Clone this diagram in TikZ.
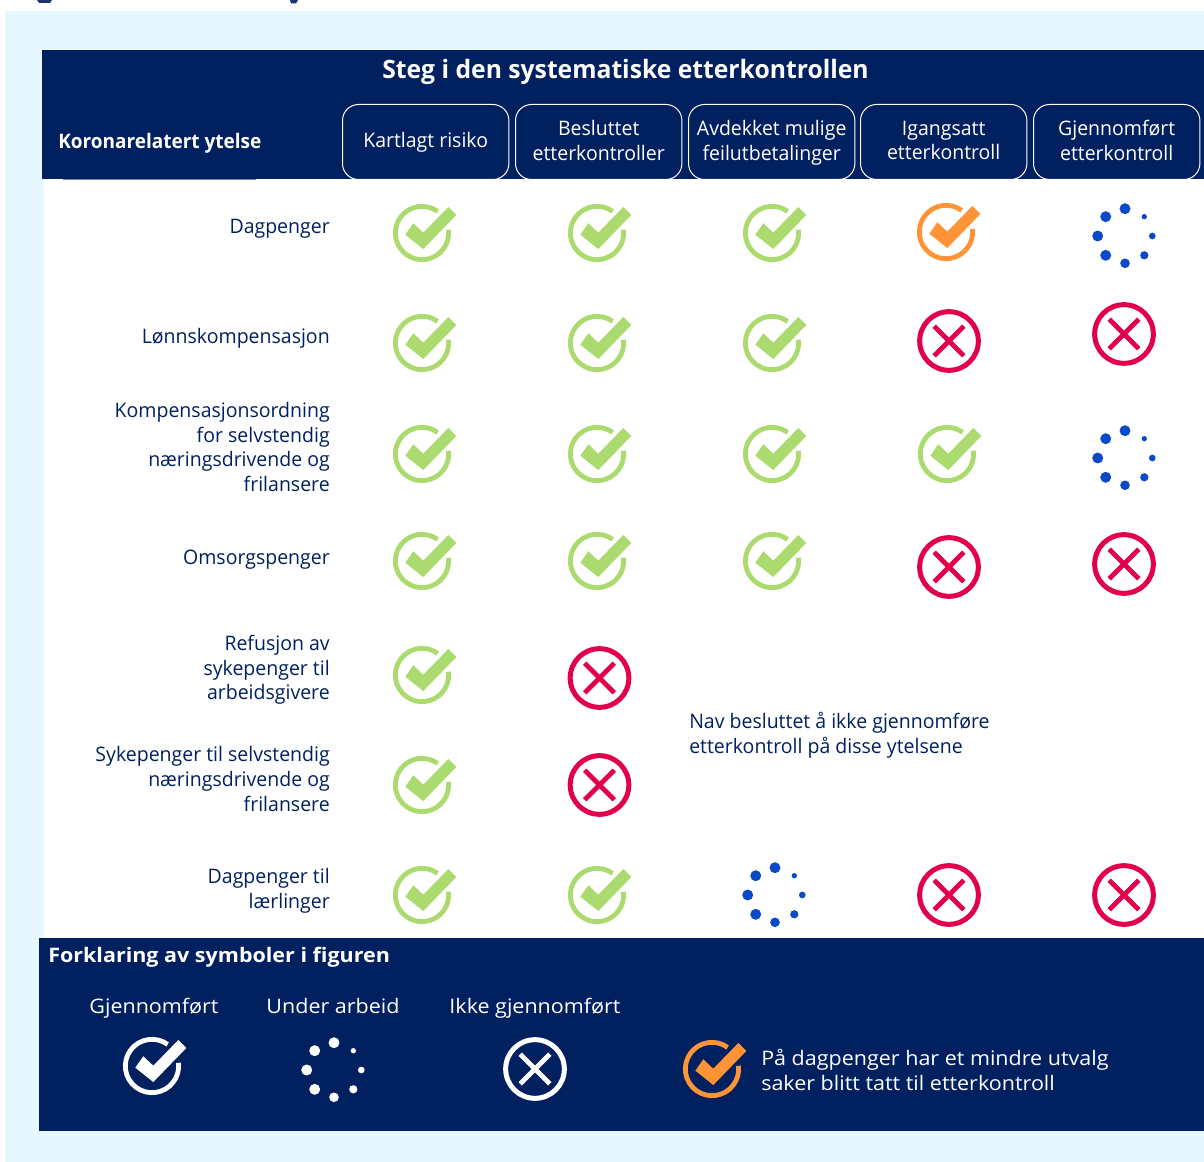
\documentclass[tikz,border=0pt]{standalone}
\usepackage{fontspec}
\setmainfont{Open Sans}
\newfontfamily\rowf[FakeStretch=0.975]{Open Sans}
\newfontfamily\headf[FakeStretch=0.95]{Open Sans}
\newfontfamily\titlef[FakeStretch=0.975]{Open Sans}
\newfontfamily\legf[FakeStretch=1.075]{Open Sans}
\newcommand{\lowedge}{\rule[-4pt]{0pt}{4pt}}
\definecolor{navy}{HTML}{002060}
\definecolor{pale}{HTML}{E7F7FF}
\definecolor{okgreen}{HTML}{ABDB6E}
\definecolor{okorange}{HTML}{FF9436}
\definecolor{nored}{HTML}{E2004A}
\definecolor{dotblue}{HTML}{0A49C8}
\tikzset{
  x=0.75pt,y=-0.75pt,
  rowlabel/.style={anchor=east,align=right,inner sep=0pt,text=navy,font=\rowf\fontsize{15}{18.5}\selectfont},
  stepbox/.style={draw=white,line width=0.75pt,rounded corners=12pt,minimum width=124.8pt,minimum height=56.25pt,inner sep=0pt,anchor=north west},
  steptext/.style={inner sep=0pt,align=center,text=white,font=\rowf\fontsize{15}{18.5}\selectfont},
  headtext/.style={inner sep=0pt,text=white,font=\headf\bfseries\fontsize{15}{18}\selectfont},
  legendhead/.style={inner sep=0pt,text=white,anchor=west,font=\legf\bfseries\fontsize{15}{18}\selectfont},
  legendtext/.style={inner sep=0pt,text=white,font=\legf\fontsize{15}{18.5}\selectfont},
}
\newcommand{\chkicon}[3]{%
  \begin{scope}[shift={(#1,#2)},x=0.75pt,y=0.75pt]
    \draw[#3,line width=3.6pt] (54:20pt) arc[start angle=54,end angle=367,radius=20pt];
    \fill[#3] (26.3,26) -- (34.3,18) -- (1.3,-16) -- (-16.7,-1.7) -- (-8.7,9.7) -- (1.3,0.3) -- cycle;
  \end{scope}}
\newcommand{\xicon}[3]{%
  \begin{scope}[shift={(#1,#2)},x=0.75pt,y=0.75pt]
    \draw[#3,line width=3.75pt] (0,0) circle[radius=22pt];
    \draw[#3,line width=3.6pt] (-14.8,14.8) -- (14.8,-14.8) (-14.8,-14.8) -- (14.8,14.8);
  \end{scope}}
\newcommand{\dotsicon}[3]{%
  \begin{scope}[shift={(#1,#2)},x=0.75pt,y=0.75pt]
    \fill[#3] (0,27.3) circle[radius=4.1pt] (19.3,19.3) circle[radius=2pt] (27.3,0) circle[radius=2.5pt]
      (19.3,-19.3) circle[radius=3.1pt] (0,-27.3) circle[radius=3.6pt] (-19.3,-19.3) circle[radius=4.1pt]
      (-27.3,0) circle[radius=4.1pt] (-19.3,19.3) circle[radius=4.1pt];
  \end{scope}}
\begin{document}
\begin{tikzpicture}
\useasboundingbox (0,0) rectangle (1204,1162);
\fill[white] (0,0) rectangle (1204,1162);
\fill[pale] (5,11) rectangle (1204,1162);
\fill[white] (44,179) rectangle (1204,938);
\fill[navy] (42,50) rectangle (1204,179);
\fill[navy] (39,938) rectangle (1204,1131);
\draw[navy!55!white,line width=0.6pt] (63,179.4) -- (256,179.4);
% cut-off title fragments at the top edge
\fill[navy!90!white] (37,0) -- (52,0) -- (50,3) -- (39,3) -- cycle;
\fill[navy!90!white] (290,0) -- (298,0) -- (296,3.5) -- (291,3.5) -- cycle;

\node[inner sep=0pt,text=white,font=\titlef\bfseries\fontsize{19}{22}\selectfont] (title) at (625.5,72) {Steg i den systematiske etterkontrollen};
\node[headtext,anchor=west] (ytelse) at (58,143) {Koronarelatert ytelse};
\node[stepbox] (s1) at (342,104) {};
\node[stepbox] (s2) at (515,104) {};
\node[stepbox] (s3) at (688,104) {};
\node[stepbox] (s4) at (860,104) {};
\node[stepbox] (s5) at (1033,104) {};
\node[steptext] (t1) at (s1.center) {Kartlagt risiko};
\node[steptext,yshift=-0.75pt] (t2) at (s2.center) {Besluttet\\etterkontroller\lowedge};
\node[steptext,yshift=-0.75pt] (t3) at (s3.center) {Avdekket mulige\\feilutbetalinger\lowedge};
\node[steptext,yshift=-0.75pt] (t4) at (s4.center) {Igangsatt\\etterkontroll\lowedge};
\node[steptext,yshift=-0.75pt] (t5) at (s5.center) {Gjennomført\\etterkontroll\lowedge};

\node[rowlabel] (r1) at (330,229) {Dagpenger};
\node[rowlabel] (r2) at (330,338) {Lønnskompensasjon};
\node[rowlabel] (r3) at (330,447) {Kompensasjonsordning\\for selvstendig\\næringsdrivende og\\frilansere};
\node[rowlabel] (r4) at (330,560) {Omsorgspenger};
\node[rowlabel] (r5) at (330,670) {Refusjon av\\sykepenger til\\arbeidsgivere};
\node[rowlabel] (r6) at (330,779) {Sykepenger til selvstendig\\næringsdrivende og\\frilansere};
\node[rowlabel] (r7) at (330,890.5) {Dagpenger til\\lærlinger};
\node[rowlabel,anchor=west,align=left] (note) at (689,735) {Nav besluttet å ikke gjennomføre\\etterkontroll på disse ytelsene};

% row 1
\chkicon{422}{233}{okgreen}\chkicon{597}{233}{okgreen}\chkicon{772}{233}{okgreen}\chkicon{946}{232}{okorange}\dotsicon{1125}{236}{dotblue}
% row 2
\chkicon{422}{343}{okgreen}\chkicon{597}{343}{okgreen}\chkicon{772}{343}{okgreen}\xicon{949}{341}{nored}\xicon{1124}{334}{nored}
% row 3
\chkicon{422}{454}{okgreen}\chkicon{597}{454}{okgreen}\chkicon{772}{454}{okgreen}\chkicon{947}{454}{okgreen}\dotsicon{1125}{458}{dotblue}
% row 4
\chkicon{422}{561}{okgreen}\chkicon{597}{561}{okgreen}\chkicon{772}{561}{okgreen}\xicon{949}{567}{nored}\xicon{1124}{564}{nored}
% row 5, 6
\chkicon{422}{675}{okgreen}\xicon{599.5}{678}{nored}
\chkicon{422}{785}{okgreen}\xicon{599.5}{785}{nored}
% row 7
\chkicon{422}{895}{okgreen}\chkicon{597}{895}{okgreen}\dotsicon{775}{895}{dotblue}\xicon{949}{895}{nored}\xicon{1124}{895}{nored}

% legend
\node[legendhead] (lh) at (48,957) {Forklaring av symboler i figuren};
\node[legendtext,anchor=base] (l1) at (154,1013) {Gjennomført};
\node[legendtext,anchor=base] (l2) at (333,1013) {Under arbeid};
\node[legendtext,anchor=base] (l3) at (535,1013) {Ikke gjennomført};
\node[legendtext,anchor=west,align=left] (l4) at (761,1070) {På dagpenger har et mindre utvalg\\saker blitt tatt til etterkontroll};
\chkicon{152}{1066}{white}
\dotsicon{334}{1070}{white}
\xicon{535}{1069}{white}
\chkicon{712}{1069}{okorange}
\end{tikzpicture}
\end{document}
